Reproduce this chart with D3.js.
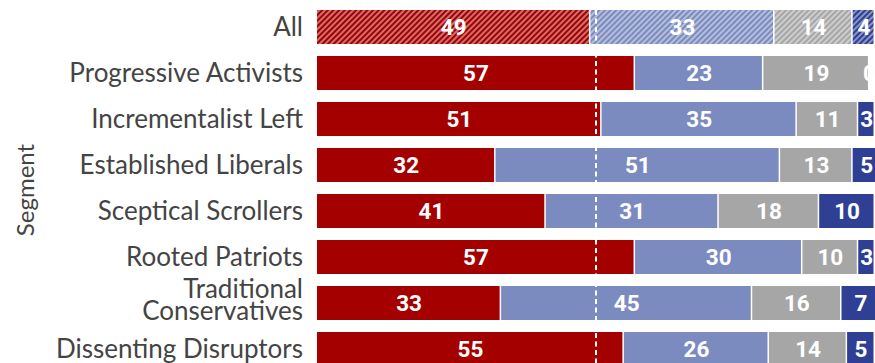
<!DOCTYPE html>
<html>
<head>
<meta charset="utf-8">
<script src="https://cdn.jsdelivr.net/npm/d3@7"></script>
<style>
  html, body { margin: 0; padding: 0; background: #fff; }
  svg { display: block; }
</style>
</head>
<body>
<svg id="chart" width="875" height="363"></svg>
<script>
// Segments (rows, top to bottom)
const categories = [
  "All",
  "Progressive Activists",
  "Incrementalist Left",
  "Established Liberals",
  "Sceptical Scrollers",
  "Rooted Patriots",
  "Traditional Conservatives",
  "Dissenting Disruptors"
];

// Four stacked series, percentages per segment
const seriesRed       = [49, 57, 51, 32, 41, 57, 33, 55];
const seriesLightBlue = [33, 23, 35, 51, 31, 30, 45, 26];
const seriesGrey      = [14, 19, 11, 13, 18, 10, 16, 14];
const seriesDarkBlue  = [4, 0, 3, 5, 10, 3, 7, 5];

const seriesKeys = ["red", "lightBlue", "grey", "darkBlue"];
const seriesValues = [seriesRed, seriesLightBlue, seriesGrey, seriesDarkBlue];
const seriesColors = ["#a50000", "#7b8bbf", "#a6a6a6", "#2e3f94"];

const axisTitle = "Segment";
const xDomain = [0, 100];
const midpoint = 50;

// Build the table that d3.stack expects
const table = categories.map((c, i) => {
  const row = { category: c };
  seriesKeys.forEach((k, j) => { row[k] = seriesValues[j][i]; });
  return row;
});

const svg = d3.select("#chart");
const width = 875;
const plotLeft = 317;
const plotTop = 10;
const rowStep = 46;
const rowGap = 12;

const x = d3.scaleLinear().domain(xDomain).range([plotLeft, width]);
const y = d3.scaleBand()
  .domain(categories)
  .range([plotTop, plotTop + rowStep * categories.length - rowGap])
  .paddingInner(rowGap / rowStep)
  .paddingOuter(0);

const stacked = d3.stack().keys(seriesKeys)(table);

// Hatch patterns for the overall row
const defs = svg.append("defs");
seriesKeys.forEach((k, j) => {
  const p = defs.append("pattern")
    .attr("id", "hatch-" + k)
    .attr("patternUnits", "userSpaceOnUse")
    .attr("width", 4)
    .attr("height", 4)
    .attr("patternTransform", "rotate(45)");
  p.append("rect").attr("width", 4).attr("height", 4).attr("fill", seriesColors[j]);
  p.append("line")
    .attr("x1", 1).attr("y1", 0).attr("x2", 1).attr("y2", 4)
    .attr("stroke", "#fff").attr("stroke-opacity", 0.55).attr("stroke-width", 1.6);
});

const gap = 1.5;

const layers = svg.append("g").selectAll("g")
  .data(stacked)
  .join("g");

layers.selectAll("rect")
  .data((s, j) => s.map(d => ({ d, j, key: s.key })))
  .join("rect")
  .attr("x", o => x(o.d[0]))
  .attr("y", o => y(o.d.data.category))
  .attr("width", o => Math.max(0, x(o.d[1]) - x(o.d[0]) - gap))
  .attr("height", y.bandwidth())
  .attr("fill", o => o.d.data.category === "All" ? `url(#hatch-${o.key})` : seriesColors[o.j]);

// Dashed midpoint marker across the bars
svg.append("line")
  .attr("x1", x(midpoint)).attr("x2", x(midpoint))
  .attr("y1", y(categories[0]))
  .attr("y2", y(categories[categories.length - 1]) + y.bandwidth())
  .attr("stroke", "#fff")
  .attr("stroke-width", 2)
  .attr("stroke-dasharray", "5,3.5");

// Value labels
layers.selectAll("text")
  .data(s => s.map(d => ({ d, v: d.data[s.key] })))
  .join("text")
  .attr("x", o => (x(o.d[0]) + x(o.d[1])) / 2)
  .attr("y", o => y(o.d.data.category) + y.bandwidth() / 2)
  .attr("dy", "0.36em")
  .attr("text-anchor", "middle")
  .attr("fill", "#fff")
  .attr("font-family", "Roboto, 'Liberation Sans', sans-serif")
  .attr("font-weight", 700)
  .attr("font-size", 22.5)
  .text(o => o.v);

// Category labels, wrapped when too long
const labelX = 303;
const maxLabelWidth = 262;
const labels = svg.append("g")
  .attr("font-family", "Lato, 'Open Sans', sans-serif")
  .attr("font-size", 26)
  .attr("fill", "#444")
  .attr("text-anchor", "end");

categories.forEach(c => {
  const cy = y(c) + y.bandwidth() / 2;
  const t = labels.append("text").attr("x", labelX).attr("y", cy).attr("dy", "0.35em").text(c);
  if (t.node().getComputedTextLength() > maxLabelWidth) {
    const words = c.split(" ");
    t.text(null);
    const lh = 22;
    words.forEach((w, i) => {
      t.append("tspan")
        .attr("x", labelX)
        .attr("y", cy - 3 + (i - (words.length - 1) / 2) * lh)
        .attr("dy", "0.35em")
        .text(w);
    });
  }
});

// Axis title
svg.append("text")
  .attr("transform", `translate(34, ${(y.range()[0] + y.range()[1]) / 2 + 2}) rotate(-90)`)
  .attr("text-anchor", "middle")
  .attr("font-family", "Lato, 'Open Sans', sans-serif")
  .attr("font-size", 24)
  .attr("fill", "#444")
  .text(axisTitle);
</script>
</body>
</html>
